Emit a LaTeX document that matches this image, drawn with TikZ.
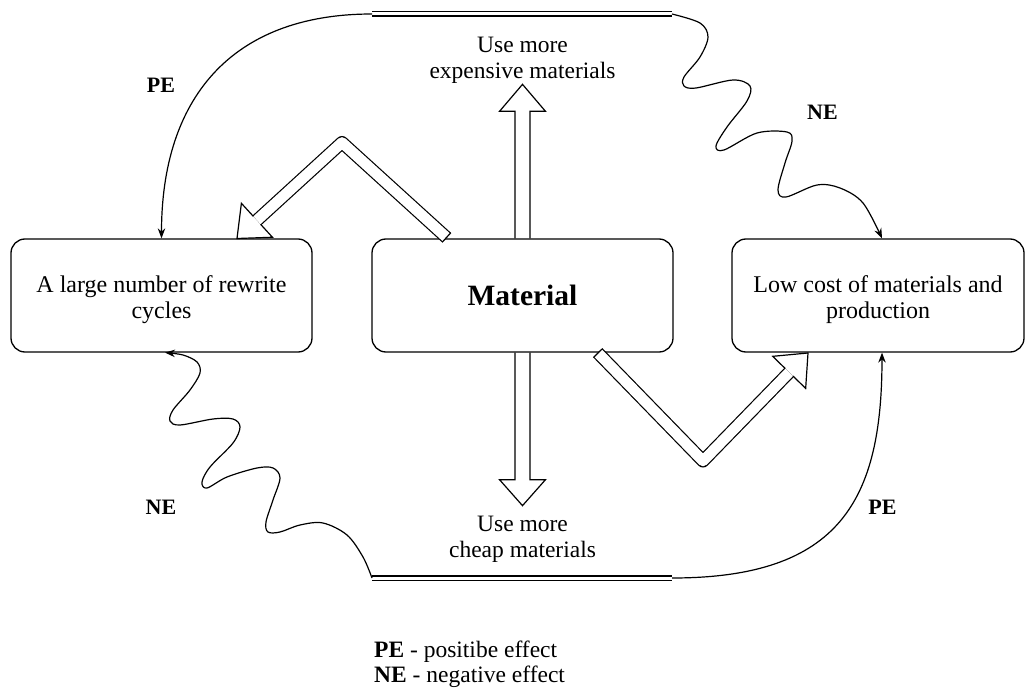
\documentclass[tikz,border=0pt]{standalone}
\usepackage{fontspec}
\setmainfont{Liberation Serif}
\usetikzlibrary{arrows.meta,calc}
\begin{document}
\begin{tikzpicture}[x=1pt,y=-1pt,
  box/.style={draw, line width=1.3pt, rounded corners=14pt, minimum width=#1, minimum height=113pt, inner sep=0pt},
  btext/.style={font=\fontsize{24}{26}\selectfont, align=center, inner sep=0pt},
  ltext/.style={font=\fontsize{23.5}{26}\selectfont, align=center, inner sep=0pt},
  elabel/.style={font=\bfseries\fontsize{22}{26}\selectfont, inner sep=0pt},
  conn/.style={line width=1.2pt, -{Stealth[length=10pt,width=7.5pt]}},
  dbl/.style={line width=1.2pt, double distance=3pt},
  shaft/.style={line width=1.2pt, double distance=10.6pt, line join=round, line cap=butt},
  barrow/.style={line width=1.2pt, line join=miter}
]
\fill[white] (0,0) rectangle (1026,690);
\useasboundingbox (0,0) rectangle (1026,690);

% boxes
\node[box=301pt] (lbox) at (161.5,295.5) {};
\node[box=301pt, font=\bfseries\fontsize{29.5}{34}\selectfont] (mbox) at (522.5,295.5) {Material};
\node[box=292pt] (rbox) at (878,295.5) {};
\node[btext, anchor=north] (ltxt) at (161.5,275.5) {A large number of rewrite\\cycles};
\node[btext, anchor=north] (rtxt) at (878,275.5) {Low cost of materials and\\production};

% straight block arrows
\draw[barrow] ($(mbox.north)+(-7.5,0)$) -- ++(0,-127) -- ++(-15.5,0) -- ($(mbox.north)+(0,-154)$)
  -- ($(mbox.north)+(23,-127)$) -- ++(-15.5,0) -- ($(mbox.north)+(7.5,0)$);
\draw[barrow] ($(mbox.south)+(-7.5,0)$) -- ++(0,127) -- ++(-15.5,0) -- ($(mbox.south)+(0,153)$)
  -- ($(mbox.south)+(23,127)$) -- ++(-15.5,0) -- ($(mbox.south)+(7.5,0)$);

\node[ltext, anchor=north] (upl) at (522.5,37) {Use more\\expensive materials};
\node[ltext, anchor=north] (dnl) at (522.5,515.5) {Use more\\cheap materials};

% bent block arrow to the left box
\coordinate (lbT) at (446.5,237.5);
\coordinate (lbP) at (342,142.5);
\coordinate (lbQ) at (237,238.5);
\coordinate (lbB) at ($(lbQ)!27pt!(lbP)$);
\draw[shaft] (lbT) -- (lbP) -- (lbB);
\draw[barrow] ($(lbT)!6.5pt!90:(lbP)$) -- ($(lbT)!6.5pt!-90:(lbP)$);
\draw[barrow] ($(lbB)!5.4pt!90:(lbQ)$) -- ($(lbB)!23pt!90:(lbQ)$) -- (lbQ)
  -- ($(lbB)!23pt!-90:(lbQ)$) -- ($(lbB)!5.4pt!-90:(lbQ)$);

% bent block arrow to the right box
\coordinate (rbT) at (598,353);
\coordinate (rbP) at (703,461);
\coordinate (rbQ) at (808,353);
\coordinate (rbB) at ($(rbQ)!27pt!(rbP)$);
\draw[shaft] (rbT) -- (rbP) -- (rbB);
\draw[barrow] ($(rbT)!6.5pt!90:(rbP)$) -- ($(rbT)!6.5pt!-90:(rbP)$);
\draw[barrow] ($(rbB)!5.4pt!90:(rbQ)$) -- ($(rbB)!23pt!90:(rbQ)$) -- (rbQ)
  -- ($(rbB)!23pt!-90:(rbQ)$) -- ($(rbB)!5.4pt!-90:(rbQ)$);

% double lines
\coordinate (tl1) at (372,14);
\coordinate (tl2) at (672,14);
\coordinate (bl1) at (372,578);
\coordinate (bl2) at (672,578);
\draw[dbl] (tl1) -- (tl2);
\draw[dbl] (bl1) -- (bl2);

% connector end points
\coordinate (rn) at ($(rbox.north)+(4,0)$);
\coordinate (rs) at ($(rbox.south)+(4,0)$);
\coordinate (ls) at ($(lbox.south)+(3.5,0)$);

% PE curves
\draw[conn] (tl1) .. controls (230,14) and (161.5,100) .. (lbox.north);
\draw[conn] (bl2) .. controls (840,578) and (882,500) .. (rs);

% NE wavy curves
\draw[conn] plot[smooth, tension=0.55] coordinates {(tl2) (700,23) (708,37) (700,57) (684,77) (684,86) (696,88) (733,80) (750,86) (747,101) (727,127) (716,146) (724,150) (757,133) (787,132) (792,141) (785,163) (778,190) (786,197) (817,185) (840,188) (863,203) (rn)};
\draw[conn] plot[smooth, tension=0.55] coordinates {(bl1) (363,557) (347,535) (323,523) (300,525) (280,532) (268,532) (266,522) (273,500) (280,478) (273,468) (257,468) (227,477) (207,488) (202,482) (210,467) (233,443) (240,427) (233,419) (213,419) (180,425) (170,421) (173,410) (190,390) (200,373) (197,362) (183,355) (ls)};

% effect labels
\node[elabel] (pe1) at (161,85) {PE};
\node[elabel] (ne1) at (822.5,112.5) {NE};
\node[elabel] (ne2) at (161,507.5) {NE};
\node[elabel] (pe2) at (882.5,507.5) {PE};

% legend
\node[anchor=north west, align=left, font=\fontsize{23.5}{25}\selectfont, inner sep=0pt] (legend) at (374,641)
  {\textbf{PE} - positibe effect\\\textbf{NE} - negative effect};
\end{tikzpicture}
\end{document}
